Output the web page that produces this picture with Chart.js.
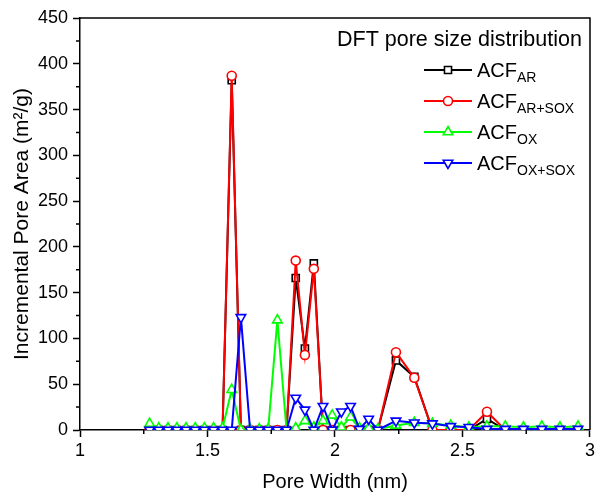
<!DOCTYPE html>
<html lang="en">
  <head>
    <meta charset="utf-8" />
    <title>DFT pore size distribution</title>
    <style>
      * {
        margin: 0;
        padding: 0;
      }
      body {
        background: #fff;
        overflow: hidden;
      }
      .chartBox {
        width: 598px;
        height: 495px;
      }
    </style>
  </head>
  <body>
    <div class="chartBox">
      <canvas id="myChart"></canvas>
    </div>

    <script src="https://cdn.jsdelivr.net/npm/chart.js"></script>

    <script>
      // pore widths (nm) of the DFT points
      const poreWidth = [
        1.273, 1.309, 1.345, 1.38, 1.416, 1.452, 1.488, 1.524, 1.559, 1.595,
        1.631, 1.667, 1.703, 1.738, 1.774, 1.81, 1.846, 1.882, 1.917, 1.953,
        1.989, 2.025, 2.061, 2.096, 2.132, 2.168, 2.239, 2.311, 2.382, 2.454,
        2.525, 2.596, 2.668, 2.739, 2.811, 2.882, 2.953,
      ];

      // incremental pore area (m2/g) for each sample
      const acfAR = [
        0, 0, 0, 0, 0, 0, 0, 0, 0, 382, 0, 0, 0, 0, 0, 0, 166, 89, 182, 0, 0,
        0, 0, 0, 0, 0, 76, 58, 0, 0, 0, 12, 0, 0, 0, 0, 0,
      ];
      const acfARSOX = [
        0, 0, 0, 0, 0, 0, 0, 0, 0, 387, 0, 0, 0, 0, 0, 0, 185, 82, 176, 0, 0,
        0, 0, 0, 0, 0, 85, 57, 0, 0, 0, 20, 0, 0, 0, 0, 0,
      ];
      const acfOX = [
        7, 2, 2, 2, 2, 2, 2, 2, 2, 44, 0, 1, 1, 1, 120, 0, 2, 10, 3, 10, 16, 3,
        14, 2, 2, 1, 5, 8, 7, 5, 3, 4, 4, 3, 4, 3, 4,
      ];
      const acfOXSOX = [
        0, 0, 0, 0, 0, 0, 0, 0, 0, 0, 123, 0, 0, 0, 0, 0, 35, 22, 0, 26, 0, 20,
        26, 1, 12, 0, 10, 8, 7, 4, 3, 1, 1, 1, 1, 1, 1,
      ];

      const xTicks = [1, 1.5, 2, 2.5, 3];
      const yTicks = [0, 50, 100, 150, 200, 250, 300, 350, 400, 450];

      const fontFamily = "'Liberation Sans', Arial, sans-serif";

      const series = [
        { main: "ACF", sub: "AR", data: acfAR, color: "#000000", style: "rect", radius: 5, rotation: 0 },
        { main: "ACF", sub: "AR+SOX", data: acfARSOX, color: "#ff0000", style: "circle", radius: 4.5, rotation: 0 },
        { main: "ACF", sub: "OX", data: acfOX, color: "#00ff00", style: "triangle", radius: 5.5, rotation: 0 },
        { main: "ACF", sub: "OX+SOX", data: acfOXSOX, color: "#0000ff", style: "triangle", radius: 5.5, rotation: 180 },
      ];

      // data block
      const data = {
        datasets: series.map((s, i) => ({
          label: "ACF" + s.sub,
          data: poreWidth.map((x, j) => ({ x: x, y: s.data[j] })),
          borderColor: s.color,
          backgroundColor: "#ffffff",
          borderWidth: 2,
          pointStyle: s.style,
          pointRadius: s.radius,
          pointRotation: s.rotation,
          pointBorderWidth: 1.6,
          pointBorderColor: s.color,
          pointBackgroundColor: "#ffffff",
          tension: 0,
          // blue on top, black at the bottom
          order: series.length - i,
        })),
      };

      // draws a marker like the library does, for the legend
      function drawMarker(ctx, style, x, y, r, rotation) {
        ctx.save();
        ctx.translate(x, y);
        ctx.rotate((rotation * Math.PI) / 180);
        ctx.beginPath();
        if (style === "circle") {
          ctx.arc(0, 0, r, 0, Math.PI * 2);
        } else if (style === "rect") {
          const s = r * Math.SQRT1_2;
          ctx.rect(-s, -s, 2 * s, 2 * s);
        } else {
          // triangle
          const h = (r * 3) / Math.sqrt(3);
          ctx.moveTo(0, -r);
          ctx.lineTo(h / 2, r / 2);
          ctx.lineTo(-h / 2, r / 2);
          ctx.closePath();
        }
        ctx.fill();
        ctx.stroke();
        ctx.restore();
      }

      // frame, minor ticks and the legend with subscripts
      const framePlugin = {
        id: "framePlugin",
        afterDraw(chart) {
          const {
            ctx,
            chartArea: { top, bottom, left, right },
            scales: { x, y },
          } = chart;
          ctx.save();
          ctx.strokeStyle = "#000";
          ctx.lineWidth = 1.5;

          // top and right border
          ctx.beginPath();
          ctx.moveTo(left, top);
          ctx.lineTo(right, top);
          ctx.lineTo(right, bottom);
          ctx.stroke();

          // minor ticks
          ctx.beginPath();
          for (let v = 25; v < 450; v += 50) {
            const py = y.getPixelForValue(v);
            ctx.moveTo(left - 4, py);
            ctx.lineTo(left, py);
          }
          for (let v = 1.25; v < 3; v += 0.5) {
            const px = x.getPixelForValue(v);
            ctx.moveTo(px, bottom);
            ctx.lineTo(px, bottom + 4);
          }
          ctx.stroke();

          // legend
          ctx.fillStyle = "#000";
          ctx.textBaseline = "middle";
          ctx.textAlign = "left";
          ctx.font = "21.5px " + fontFamily;
          ctx.fillText("DFT pore size distribution", 337, 40);

          const rows = [70, 101, 132, 163];
          series.forEach((s, i) => {
            const ry = rows[i];
            ctx.strokeStyle = s.color;
            ctx.lineWidth = 2;
            ctx.beginPath();
            ctx.moveTo(424, ry);
            ctx.lineTo(472, ry);
            ctx.stroke();
            ctx.fillStyle = "#fff";
            ctx.lineWidth = 1.6;
            drawMarker(ctx, s.style, 448, ry, s.radius, s.rotation);

            ctx.fillStyle = "#000";
            ctx.textBaseline = "alphabetic";
            ctx.font = "20px " + fontFamily;
            ctx.fillText(s.main, 477, ry + 7);
            const w = ctx.measureText(s.main).width;
            ctx.font = "14px " + fontFamily;
            ctx.fillText(s.sub, 477 + w, ry + 12);
          });
          ctx.restore();
        },
      };

      // config block
      const config = {
        type: "line",
        data: data,
        options: {
          responsive: true,
          maintainAspectRatio: false,
          animation: false,
          layout: {
            padding: { top: 18, right: 6, left: 0, bottom: 0 },
          },
          plugins: {
            legend: { display: false },
            tooltip: { enabled: false },
          },
          scales: {
            x: {
              type: "linear",
              min: 1,
              max: 3,
              afterFit(scale) {
                scale.height = 65;
              },
              afterBuildTicks(scale) {
                scale.ticks = xTicks.map((v) => ({ value: v }));
              },
              ticks: {
                color: "#000",
                padding: 3,
                maxRotation: 0,
                autoSkip: false,
                font: { family: fontFamily, size: 18 },
                callback: (v) => String(v),
              },
              grid: {
                drawOnChartArea: false,
                drawTicks: true,
                tickLength: 7,
                tickColor: "#000",
                tickWidth: 1.5,
              },
              border: { color: "#000", width: 1.5 },
              title: {
                display: true,
                text: "Pore Width (nm)",
                color: "#000",
                font: { family: fontFamily, size: 20 },
                padding: { top: 0, bottom: 1 },
              },
            },
            y: {
              min: 0,
              max: 450,
              afterFit(scale) {
                scale.width = 80;
              },
              afterBuildTicks(scale) {
                scale.ticks = yTicks.map((v) => ({ value: v }));
              },
              ticks: {
                color: "#000",
                padding: 5,
                autoSkip: false,
                font: { family: fontFamily, size: 18 },
              },
              grid: {
                drawOnChartArea: false,
                drawTicks: true,
                tickLength: 7,
                tickColor: "#000",
                tickWidth: 1.5,
              },
              border: { color: "#000", width: 1.5 },
              title: {
                display: true,
                text: "Incremental Pore Area (m\u00b2/g)",
                color: "#000",
                font: { family: fontFamily, size: 21 },
                padding: { top: 10, bottom: 0 },
              },
            },
          },
        },
        plugins: [framePlugin],
      };

      // init render block
      const ctx = document.getElementById("myChart");
      const myChart = new Chart(ctx, config);
    </script>
  </body>
</html>
